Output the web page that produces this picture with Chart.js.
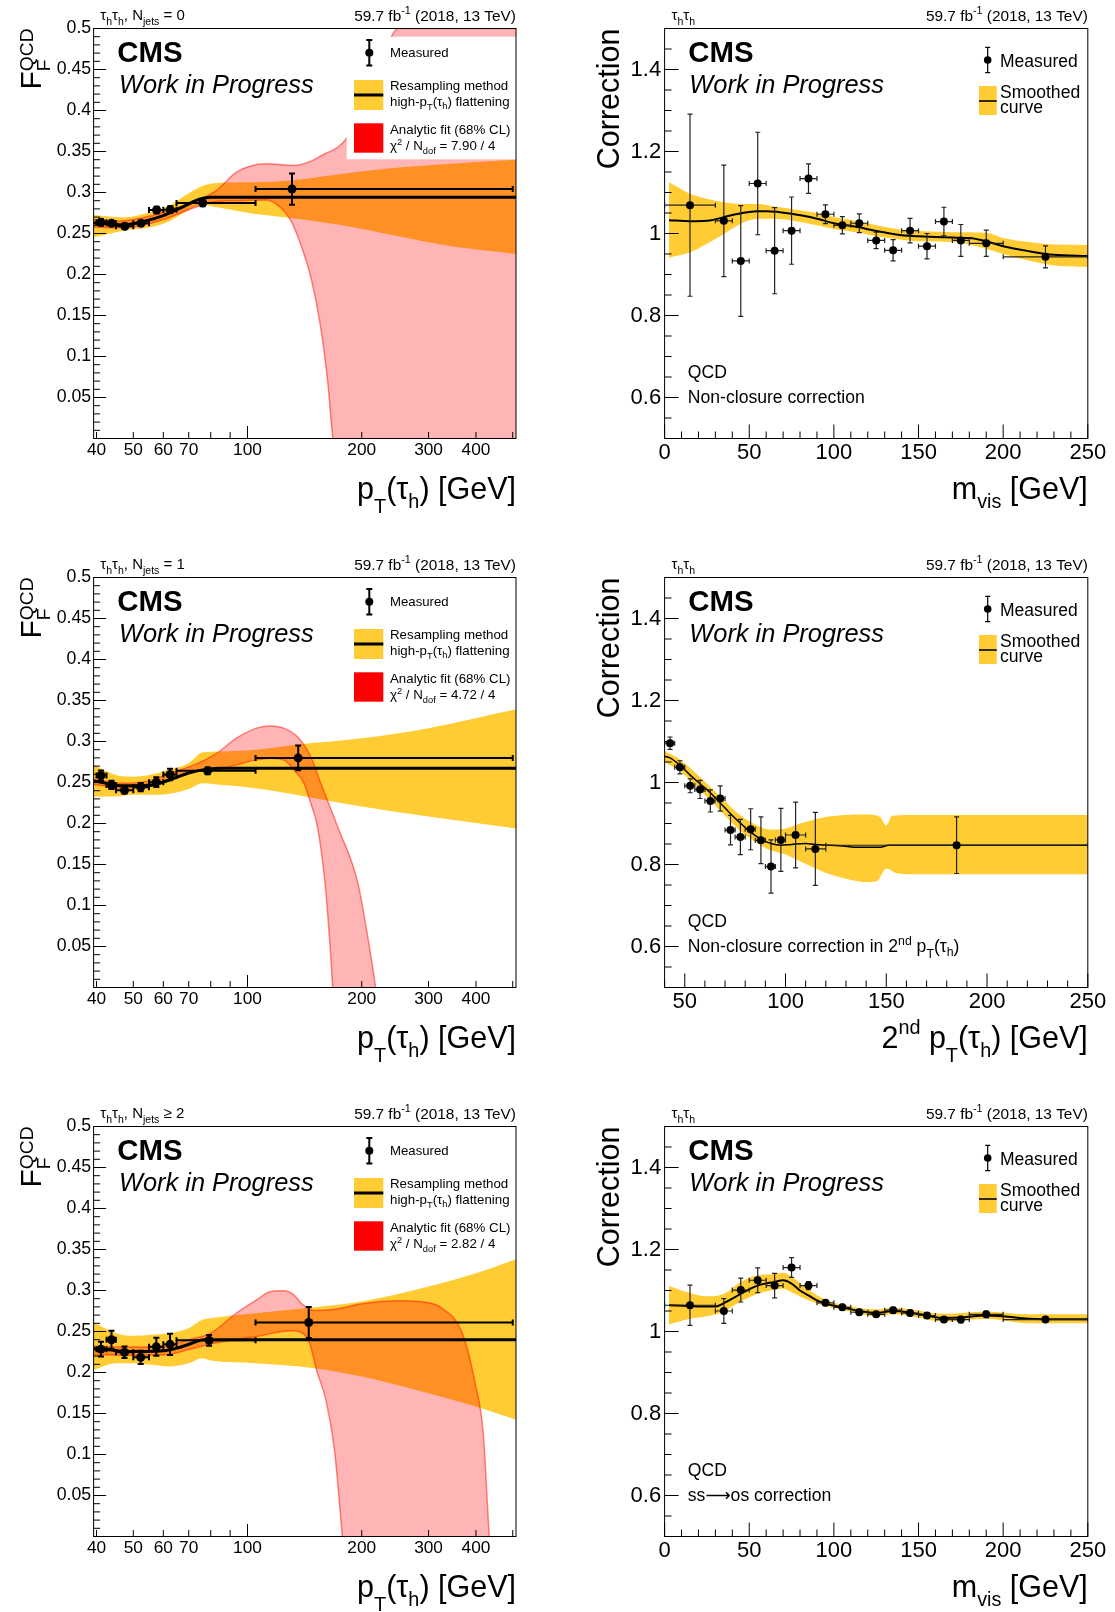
<!DOCTYPE html>
<html>
<head>
<meta charset="utf-8">
<title>QCD fake factors and corrections</title>
<script src="https://cdn.jsdelivr.net/npm/chart.js@4.4.1/dist/chart.umd.min.js"></script>
<style>
  html, body { margin: 0; padding: 0; background: #fff; }
  body { width: 1115px; height: 1612px; position: relative; overflow: hidden; }
  canvas { position: absolute; }
</style>
</head>
<body>
<canvas id="ff0" width="557" height="520" style="left:0;top:0"></canvas>
<canvas id="corrMvis" width="558" height="520" style="left:557px;top:0"></canvas>
<canvas id="ff1" width="557" height="520" style="left:0;top:549px"></canvas>
<canvas id="corrPt2" width="558" height="520" style="left:557px;top:549px"></canvas>
<canvas id="ff2" width="557" height="520" style="left:0;top:1098px"></canvas>
<canvas id="corrSsos" width="558" height="520" style="left:557px;top:1098px"></canvas>
<script>
const FONT = '"Liberation Sans", Arial, Helvetica, "DejaVu Sans", sans-serif'
const YELLOW = '#ffcc33'
const PINK = 'rgba(255, 0, 0, 0.29)'
const PINK_EDGE = 'rgba(255, 20, 0, 0.5)'
const AREA_TOP = 28.5
const AREA_BOTTOM = 438.5
const X_AXIS_H = 40

// tick labels
const ptTicks = [40, 50, 60, 70, 100, 200, 300, 400]
const ffTicks = [0.05, 0.1, 0.15, 0.2, 0.25, 0.3, 0.35, 0.4, 0.45, 0.5]
const corrTicks = [0.6, 0.8, 1, 1.2, 1.4]
const mvisTicks = [0, 50, 100, 150, 200, 250]
const pt2Ticks = [50, 100, 150, 200, 250]

// fake factor pT bins (GeV)
const ffBinLo = [40, 42.5, 45, 50, 55, 60, 65, 105]
const ffBinHi = [42.5, 45, 50, 55, 60, 65, 105, 500]

// F_F^QCD, Njets = 0
const nj0X = [41.1, 43.8, 47.5, 52.4, 57.6, 62.6, 76.2, 131]
const nj0Y = [0.2636, 0.2624, 0.2588, 0.2624, 0.2787, 0.2791, 0.2873, 0.3042]
const nj0Err = [0.004, 0.003, 0.003, 0.003, 0.004, 0.004, 0.004, 0.019]
const nj0CurveX = [39.3, 43, 47, 53, 60, 68, 75, 80, 510]
const nj0CurveY = [0.2632, 0.262, 0.2604, 0.2645, 0.2718, 0.2832, 0.2922, 0.2942, 0.2942]
const nj0BandX = [39.3, 47, 55.4, 62.6, 70.7, 76.7, 83.3, 105, 130, 173, 212, 260, 320, 393, 510]
const nj0BandHi = [0.2726, 0.2697, 0.2759, 0.2849, 0.3003, 0.3085, 0.3117, 0.3125, 0.3146, 0.322, 0.327, 0.331, 0.334, 0.337, 0.34]
const nj0BandLo = [0.2453, 0.2535, 0.2575, 0.2657, 0.28, 0.2849, 0.282, 0.2738, 0.269, 0.261, 0.2535, 0.245, 0.237, 0.231, 0.225]
const nj0FitHiX = [39.3, 45, 50, 55, 60, 65, 70, 76, 82.6, 93.5, 101.4, 112.4, 122, 132.4, 146.7, 159.4, 172.8, 183.9, 212, 250, 510]
const nj0FitHi = [0.267, 0.265, 0.267, 0.271, 0.276, 0.281, 0.287, 0.293, 0.302, 0.3248, 0.332, 0.335, 0.334, 0.333, 0.338, 0.347, 0.355, 0.368, 0.42, 0.5, 0.5]
const nj0FitLoX = [39.3, 45, 50, 55, 60, 65, 70, 76, 82.6, 93.5, 112.4, 122, 130, 138, 147, 156, 163, 168, 510]
const nj0FitLo = [0.258, 0.257, 0.258, 0.262, 0.267, 0.273, 0.279, 0.285, 0.289, 0.29, 0.291, 0.282, 0.266, 0.237, 0.196, 0.135, 0.066, 0, -0.5]

// F_F^QCD, Njets = 1
const nj1X = [41.1, 43.8, 47.4, 52.3, 57.5, 62.5, 78.5, 136]
const nj1Y = [0.2585, 0.247, 0.2406, 0.2443, 0.2504, 0.2597, 0.2642, 0.28]
const nj1Err = [0.006, 0.005, 0.004, 0.005, 0.006, 0.007, 0.004, 0.015]
const nj1CurveX = [39.3, 40, 47, 55, 62.5, 70.7, 78.4, 85, 510]
const nj1CurveY = [0.2515, 0.2512, 0.246, 0.2465, 0.2533, 0.2622, 0.2663, 0.2675, 0.2675]
const nj1BandX = [39.3, 45, 50, 55, 62, 70, 76, 85, 105, 134, 200, 300, 510]
const nj1BandHi = [0.2715, 0.259, 0.257, 0.259, 0.2654, 0.2736, 0.2866, 0.2878, 0.2898, 0.296, 0.304, 0.3163, 0.3394]
const nj1BandLo = [0.233, 0.233, 0.235, 0.235, 0.236, 0.242, 0.2492, 0.2472, 0.243, 0.235, 0.2207, 0.2085, 0.194]
const nj1FitHiX = [39.3, 47, 55, 63, 71, 82.6, 93.5, 105.7, 114.7, 124.5, 135.2, 146.7, 156, 172.8, 195.4, 210.1, 217.5, 230, 510]
const nj1FitHi = [0.254, 0.249, 0.252, 0.262, 0.27, 0.285, 0.304, 0.3163, 0.319, 0.3163, 0.306, 0.2817, 0.249, 0.196, 0.127, 0.046, 0, -0.1, -0.9]
const nj1FitLoX = [39.3, 47, 55, 63, 71, 82.6, 93.5, 105.7, 114.7, 124.5, 132.4, 140.9, 146.7, 152.9, 160.1, 165.3, 167.7, 175, 510]
const nj1FitLo = [0.248, 0.243, 0.245, 0.254, 0.263, 0.265, 0.2715, 0.2776, 0.2797, 0.2776, 0.2654, 0.249, 0.225, 0.196, 0.127, 0.046, 0, -0.1, -1]

// F_F^QCD, Njets >= 2
const nj2X = [41.1, 43.8, 47.4, 52.3, 57.5, 62.5, 79.2, 145]
const nj2Y = [0.2285, 0.24, 0.2246, 0.2185, 0.2313, 0.2343, 0.2392, 0.261]
const nj2Err = [0.009, 0.011, 0.007, 0.008, 0.011, 0.013, 0.0065, 0.019]
const nj2CurveX = [39.3, 43.2, 46.9, 53.1, 60, 65.2, 70.7, 76.7, 510]
const nj2CurveY = [0.229, 0.2277, 0.226, 0.2256, 0.2264, 0.2297, 0.235, 0.24, 0.24]
const nj2BandX = [39.3, 45, 50, 56, 62, 70, 76, 80, 105, 150, 200, 300, 400, 510]
const nj2BandHi = [0.261, 0.248, 0.2447, 0.246, 0.248, 0.2541, 0.2642, 0.2663, 0.2724, 0.2797, 0.2866, 0.3049, 0.3211, 0.3382]
const nj2BandLo = [0.2033, 0.2114, 0.2114, 0.2093, 0.2073, 0.2114, 0.2175, 0.2146, 0.2114, 0.2053, 0.1951, 0.1748, 0.1585, 0.1423]
const nj2FitHiX = [39.3, 47, 55, 62, 70, 80, 93.5, 105.7, 114.7, 124.5, 132.4, 140, 150, 170, 200, 250, 282, 325, 368, 398, 418, 433, 448, 510]
const nj2FitHi = [0.232, 0.231, 0.231, 0.233, 0.24, 0.248, 0.2724, 0.2886, 0.2984, 0.2996, 0.2947, 0.2825, 0.2756, 0.2772, 0.2837, 0.2874, 0.2866, 0.2785, 0.248, 0.187, 0.126, 0.004, -0.1, -0.5]
const nj2FitLoX = [39.3, 47, 55, 62, 70, 83.4, 105.7, 130.8, 144, 152.9, 160.9, 169.5, 177.6, 185, 510]
const nj2FitLo = [0.222, 0.221, 0.221, 0.222, 0.228, 0.2366, 0.244, 0.2508, 0.2417, 0.1992, 0.1667, 0.1057, 0.002, -0.1, -1]

// m_vis bins (GeV)
const mvisX = [15, 35, 45, 55, 65, 75, 85, 95, 105, 115, 125, 135, 145, 155, 165, 175, 190, 225]
const mvisLo = [0, 30, 40, 50, 60, 70, 80, 90, 100, 110, 120, 130, 140, 150, 160, 170, 180, 200]
const mvisHi = [30, 40, 50, 60, 70, 80, 90, 100, 110, 120, 130, 140, 150, 160, 170, 180, 200, 250]

// non-closure correction vs m_vis
const ncY = [1.069, 1.031, 0.933, 1.122, 0.958, 1.007, 1.134, 1.047, 1.02, 1.025, 0.983, 0.959, 1.007, 0.969, 1.029, 0.983, 0.976, 0.943]
const ncErr = [0.222, 0.136, 0.135, 0.125, 0.105, 0.082, 0.036, 0.023, 0.021, 0.023, 0.02, 0.026, 0.03, 0.031, 0.035, 0.039, 0.032, 0.027]
const ncCurveX = [2.6, 15, 25, 40, 55, 60, 75, 90, 100, 115, 125, 140, 150, 170, 180, 190, 200, 215, 230, 250]
const ncCurveY = [1.0325, 1.03, 1.031, 1.045, 1.054, 1.054, 1.048, 1.036, 1.025, 1.015, 1.006, 0.996, 0.993, 0.99, 0.989, 0.981, 0.969, 0.957, 0.948, 0.945]
const ncBandX = [2.6, 15, 25, 35, 45, 55, 65, 75, 90, 100, 115, 125, 140, 150, 170, 190, 200, 215, 230, 250]
const ncBandHi = [1.125, 1.097, 1.085, 1.076, 1.072, 1.072, 1.066, 1.06, 1.05, 1.04, 1.029, 1.02, 1.009, 1.006, 1.003, 1.002, 0.989, 0.979, 0.973, 0.972]
const ncBandLo = [0.941, 0.954, 0.975, 0.999, 1.024, 1.036, 1.036, 1.032, 1.02, 1.011, 1.002, 0.993, 0.985, 0.981, 0.979, 0.963, 0.95, 0.934, 0.922, 0.918]

// non-closure correction vs 2nd pT(tau_h)
const pt2X = [42.7, 47.6, 52.7, 57.6, 62.7, 67.6, 72.7, 77.6, 82.7, 87.8, 92.8, 97.7, 105, 114.8, 184.9]
const pt2Lo = [40, 45, 50, 55, 60, 65, 70, 75, 80, 85, 90, 95, 100, 110, 120]
const pt2Hi = [45, 50, 55, 60, 65, 70, 75, 80, 85, 90, 95, 100, 110, 120, 250]
const pt2Y = [1.096, 1.037, 0.992, 0.983, 0.955, 0.961, 0.884, 0.867, 0.886, 0.859, 0.795, 0.86, 0.872, 0.838, 0.847]
const pt2Err = [0.015, 0.016, 0.017, 0.022, 0.027, 0.031, 0.036, 0.043, 0.05, 0.057, 0.065, 0.077, 0.08, 0.089, 0.069]
const pt2CurveX = [40, 42.7, 47.6, 52.7, 57.6, 62.7, 67.6, 72.7, 77.6, 82.7, 87.7, 92.8, 97.7, 103, 109.8, 116.5, 126.7, 136.9, 147, 151.2, 167.3, 250]
const pt2CurveY = [1.064, 1.06, 1.042, 1.018, 0.997, 0.975, 0.95, 0.924, 0.901, 0.879, 0.862, 0.851, 0.847, 0.849, 0.851, 0.848, 0.846, 0.842, 0.842, 0.847, 0.847, 0.847]
const pt2BandHiX = [40, 47.6, 57.6, 67.6, 77.6, 87.7, 92.8, 99.6, 108, 119.9, 130.1, 140.2, 147, 150, 152.9, 167.3, 250]
const pt2BandHi = [1.077, 1.056, 1.013, 0.966, 0.92, 0.891, 0.885, 0.887, 0.901, 0.916, 0.921, 0.922, 0.916, 0.895, 0.919, 0.921, 0.921]
const pt2BandLoX = [40, 47.6, 57.6, 67.6, 77.6, 87.7, 92.8, 99.6, 108, 119.9, 130.1, 140.2, 145.3, 150, 155.5, 167.3, 250]
const pt2BandLo = [1.05, 1.028, 0.982, 0.932, 0.882, 0.847, 0.834, 0.825, 0.806, 0.78, 0.765, 0.757, 0.759, 0.79, 0.778, 0.776, 0.776]

// ss -> os correction vs m_vis
const osY = [1.064, 1.05, 1.101, 1.125, 1.112, 1.156, 1.112, 1.07, 1.059, 1.047, 1.042, 1.052, 1.045, 1.039, 1.029, 1.029, 1.042, 1.029]
const osErr = [0.049, 0.03, 0.029, 0.03, 0.03, 0.024, 0.01, 0.007, 0.007, 0.007, 0.006, 0.007, 0.007, 0.007, 0.007, 0.008, 0.008, 0.007]
const osCurveX = [2.6, 15, 25, 30, 35, 40, 45, 55, 65, 70, 75, 80, 85, 90, 95, 105, 115, 125, 135, 145, 155, 165, 175, 190, 200, 215, 225, 250]
const osCurveY = [1.064, 1.062, 1.061, 1.061, 1.069, 1.08, 1.092, 1.112, 1.121, 1.125, 1.117, 1.1, 1.088, 1.076, 1.068, 1.059, 1.05, 1.045, 1.05, 1.046, 1.039, 1.033, 1.034, 1.039, 1.037, 1.031, 1.03, 1.03]
const osBandX = [2.6, 15, 25, 35, 45, 55, 65, 70, 75, 85, 95, 105, 125, 135, 145, 165, 190, 215, 250]
const osBandHi = [1.111, 1.094, 1.086, 1.092, 1.121, 1.137, 1.14, 1.143, 1.134, 1.102, 1.078, 1.065, 1.054, 1.058, 1.054, 1.043, 1.049, 1.042, 1.042]
const osBandLo = [1.017, 1.031, 1.037, 1.049, 1.073, 1.092, 1.102, 1.104, 1.096, 1.076, 1.062, 1.053, 1.037, 1.042, 1.038, 1.024, 1.031, 1.02, 1.02]

const pts = (xs, ys) => xs.map((x, i) => ({ x, y: ys[i] }))

// text with sub/superscripts: parts = [text, kind, offset]
function rich(ctx, parts, x, y, size, align, style, scale) {
  const sc = scale || 0.7
  const font = s => `${style || ''} ${s}px ${FONT}`
  const items = parts.map(([t, k, off]) => {
    if (k === 'stack') {
      ctx.font = font(size * sc)
      return { t, s: size * sc, stack: true, off, w: Math.max(ctx.measureText(t[0]).width, ctx.measureText(t[1]).width) }
    }
    const s = k ? size * sc : size
    ctx.font = font(s)
    const dy = k === 'sub' ? (off ?? 0.3) * size : k === 'sup' ? -(off ?? 0.4) * size : 0
    return { t, s, dy, w: ctx.measureText(t).width }
  })
  const total = items.reduce((a, it) => a + it.w, 0)
  let cx = align === 'right' ? x - total : align === 'center' ? x - total / 2 : x
  ctx.textAlign = 'left'
  ctx.textBaseline = 'alphabetic'
  items.forEach(it => {
    ctx.font = font(it.s)
    if (it.stack) {
      ctx.fillText(it.t[0], cx, y - it.off[0] * size)
      ctx.fillText(it.t[1], cx, y + it.off[1] * size)
    } else {
      ctx.fillText(it.t, cx, y + it.dy)
    }
    cx += it.w
  })
}

function errMarker(ctx, x, y, r, top, bottom, cap, lw) {
  ctx.fillStyle = '#000'
  ctx.strokeStyle = '#000'
  ctx.lineWidth = lw
  ctx.beginPath()
  ctx.moveTo(x, top); ctx.lineTo(x, bottom)
  ctx.moveTo(x - cap, top); ctx.lineTo(x + cap, top)
  ctx.moveTo(x - cap, bottom); ctx.lineTo(x + cap, bottom)
  ctx.stroke()
  ctx.beginPath(); ctx.arc(x, y, r, 0, 2 * Math.PI); ctx.fill()
}

function drawFFDecor(ctx, a, p) {
  // legend (white box sits over the analytic band)
  ctx.fillStyle = '#fff'
  ctx.fillRect(346.7, 36.7, a.right - 346.7, 122.6)
  errMarker(ctx, 369.3, 52.7, 4, 40, 65.5, 3, 2)
  ctx.fillStyle = '#000'
  rich(ctx, [['Measured']], 390, 57, 13.2)
  ctx.fillStyle = YELLOW
  ctx.fillRect(354, 80, 29.3, 30)
  ctx.fillStyle = '#000'
  ctx.fillRect(354, 93.5, 29.3, 3)
  rich(ctx, [['Resampling method']], 390, 89.5, 13.3)
  rich(ctx, [['high-p'], ['T', 'sub', 0.35], ['(τ'], ['h', 'sub', 0.25], [') flattening']], 390, 105.5, 13.3)
  ctx.fillStyle = '#ff0000'
  ctx.fillRect(354, 123.3, 29.3, 29.4)
  ctx.fillStyle = '#000'
  rich(ctx, [['Analytic fit (68% CL)']], 390, 133.5, 13.3)
  rich(ctx, [['χ'], ['2', 'sup', 0.35], [' / N'], ['dof', 'sub', 0.3], [' = ' + p.chi2]], 390, 150, 13.3)

  ctx.fillStyle = '#000'
  rich(ctx, [['CMS']], 117.3, 61.7, 29.4, 'left', 'bold')
  rich(ctx, [['Work in Progress']], 119, 93.3, 25.4, 'left', 'italic')
  rich(ctx, [['τ'], ['h', 'sub', 0.3], ['τ'], ['h', 'sub', 0.3], [', N'], ['jets', 'sub', 0.3], [p.njets]], 100.3, 20, 15)
  rich(ctx, [['59.7 fb'], ['-1', 'sup', 0.4], [' (2018, 13 TeV)']], a.right, 20.5, 15.4, 'right')
  rich(ctx, [['p'], ['T', 'sub', 0.45], ['(τ'], ['h', 'sub', 0.3], [') [GeV]']], a.right, 499, 30.5, 'right', '', 0.65)
  // rotated y title
  ctx.save()
  ctx.translate(40.6, a.top)
  ctx.rotate(-Math.PI / 2)
  rich(ctx, [['F'], [['QCD', 'F'], 'stack', [0.24, 0.3]]], 0, 0, 30, 'right', '', 0.64)
  ctx.restore()
}

function drawCorrDecor(ctx, a, p) {
  errMarker(ctx, 430.7, 60, 3.8, 47.3, 72.7, 2.5, 1.2)
  ctx.fillStyle = '#000'
  rich(ctx, [['Measured']], 443, 66.5, 17.5)
  ctx.fillStyle = YELLOW
  ctx.fillRect(422, 86, 17.7, 29)
  ctx.fillStyle = '#000'
  ctx.fillRect(422, 100.2, 17.7, 1.6)
  rich(ctx, [['Smoothed']], 443, 98, 17.6)
  rich(ctx, [['curve']], 443, 113, 17.6)

  rich(ctx, [['CMS']], 131.3, 61.5, 29.4, 'left', 'bold')
  rich(ctx, [['Work in Progress']], 132.3, 93.3, 25.4, 'left', 'italic')
  rich(ctx, [['τ'], ['h', 'sub', 0.3], ['τ'], ['h', 'sub', 0.3]], 114.5, 20, 15)
  rich(ctx, [['59.7 fb'], ['-1', 'sup', 0.4], [' (2018, 13 TeV)']], a.right, 20.5, 15.4, 'right')
  rich(ctx, [['QCD']], 130.8, 377.7, 17.6)
  rich(ctx, p.note, 130.8, 402.7, 17.6)
  rich(ctx, p.xTitle, a.right, 499, 30.5, 'right', '', 0.65)
  ctx.save()
  ctx.translate(62.2, a.top)
  ctx.rotate(-Math.PI / 2)
  rich(ctx, [['Correction']], 0, 0, 30.5, 'right')
  ctx.restore()
}

function rootPlugin(p) {
  return {
    id: 'rootStyle',
    beforeDatasetDraw(chart, args) {
      const ds = chart.data.datasets[args.index]
      if (!ds.errY) return
      const { ctx, chartArea: a, scales: { x, y } } = chart
      ctx.save()
      ctx.beginPath()
      ctx.rect(a.left, a.top, a.width, a.height)
      ctx.clip()
      ctx.strokeStyle = p.errColor
      ctx.lineWidth = p.errW
      ctx.beginPath()
      ds.data.forEach((pt, i) => {
        const px = x.getPixelForValue(pt.x)
        const py = y.getPixelForValue(pt.y)
        const xl = x.getPixelForValue(ds.errX[i][0])
        const xh = x.getPixelForValue(ds.errX[i][1])
        const yl = y.getPixelForValue(pt.y - ds.errY[i])
        const yh = y.getPixelForValue(pt.y + ds.errY[i])
        ctx.moveTo(xl, py); ctx.lineTo(xh, py)
        ctx.moveTo(xl, py - p.cap); ctx.lineTo(xl, py + p.cap)
        ctx.moveTo(xh, py - p.cap); ctx.lineTo(xh, py + p.cap)
        ctx.moveTo(px, yl); ctx.lineTo(px, yh)
        ctx.moveTo(px - p.cap, yl); ctx.lineTo(px + p.cap, yl)
        ctx.moveTo(px - p.cap, yh); ctx.lineTo(px + p.cap, yh)
      })
      ctx.stroke()
      ctx.restore()
    },
    afterDraw(chart) {
      const { ctx, chartArea: a, scales: { x, y } } = chart
      ctx.save()
      if (p.kind === 'ff') drawFFDecor(ctx, a, p)
      else drawCorrDecor(ctx, a, p)
      // inward ticks + frame
      ctx.strokeStyle = '#000'
      ctx.lineWidth = 1
      ctx.beginPath()
      const tickX = (v, len) => { const px = x.getPixelForValue(v); ctx.moveTo(px, a.bottom); ctx.lineTo(px, a.bottom - len) }
      const tickY = (v, len) => { const py = y.getPixelForValue(v); ctx.moveTo(a.left, py); ctx.lineTo(a.left + len, py) }
      p.xMajor.forEach(v => tickX(v, p.majorLen))
      p.xMinor.forEach(v => tickX(v, p.minorLen))
      p.yMajor.forEach(v => tickY(v, p.majorLen))
      p.yMinor.forEach(v => tickY(v, p.minorLen))
      ctx.stroke()
      ctx.strokeRect(a.left, a.top, a.width, a.height)
      ctx.restore()
    }
  }
}

function buildDatasets(p) {
  const sets = [
    {
      data: pts(p.x, p.y), showLine: false, pointRadius: p.markR, pointBackgroundColor: '#000',
      pointBorderWidth: 0, errX: p.xLo.map((lo, i) => [lo, p.xHi[i]]), errY: p.err, order: 0
    },
    { data: pts(p.curveX, p.curveY), borderColor: '#000', borderWidth: p.curveW, pointRadius: 0, fill: false, order: 1 }
  ]
  if (p.fitHi) {
    sets.push({ data: pts(p.fitHiX, p.fitHi), borderColor: PINK_EDGE, borderWidth: 1.5, backgroundColor: PINK, pointRadius: 0, fill: '+1', order: 2 })
    sets.push({ data: pts(p.fitLoX, p.fitLo), borderColor: PINK_EDGE, borderWidth: 1.5, pointRadius: 0, fill: false, order: 3 })
  }
  sets.push({ data: pts(p.bandHiX, p.bandHi), borderWidth: 0, borderColor: 'rgba(0,0,0,0)', backgroundColor: YELLOW, pointRadius: 0, fill: '+1', order: 4 })
  sets.push({ data: pts(p.bandLoX, p.bandLo), borderWidth: 0, borderColor: 'rgba(0,0,0,0)', pointRadius: 0, fill: false, order: 5 })
  sets.forEach(s => { s.cubicInterpolationMode = 'monotone'; s.capBezierPoints = false })
  return sets
}

function makeChart(p) {
  const canvas = document.getElementById(p.id)
  const tickFont = size => ({ family: FONT, size })
  return new Chart(canvas, {
    type: 'line',
    data: { datasets: buildDatasets(p) },
    options: {
      responsive: false,
      animation: false,
      events: [],
      layout: { padding: { left: 0, top: AREA_TOP, right: canvas.width - p.areaRight, bottom: canvas.height - AREA_BOTTOM - X_AXIS_H } },
      plugins: { legend: { display: false }, tooltip: { enabled: false } },
      scales: {
        x: {
          type: p.xType, min: p.xMin, max: p.xMax,
          grid: { display: false, drawTicks: false }, border: { display: false },
          ticks: { autoSkip: false, maxRotation: 0, padding: p.xPad, color: '#000', font: tickFont(p.xTickSize), callback: v => String(v) },
          afterBuildTicks: s => { s.ticks = p.xTicks.map(v => ({ value: v })) },
          afterFit: s => { s.height = X_AXIS_H }
        },
        y: {
          type: 'linear', min: p.yMin, max: p.yMax,
          grid: { display: false, drawTicks: false }, border: { display: false },
          ticks: { autoSkip: false, padding: p.yPad, color: '#000', font: tickFont(p.yTickSize), callback: v => String(+v.toFixed(2)) },
          afterBuildTicks: s => { s.ticks = p.yTicks.map(v => ({ value: v })) },
          afterFit: s => { s.width = p.areaLeft }
        }
      }
    },
    plugins: [rootPlugin(p)]
  })
}

// axis decoration (tick marks)
const ffYMajor = [], ffYMinor = []
for (let i = 0; i <= 50; i++) (i % 5 ? ffYMinor : ffYMajor).push(i / 100)
const corrYMajor = [], corrYMinor = []
for (let i = 10; i <= 30; i++) (i % 4 ? corrYMinor : corrYMajor).push(i * 0.05)
const mvisMajor = [], mvisMinor = []
for (let i = 0; i <= 25; i++) (i % 5 ? mvisMinor : mvisMajor).push(i * 10)
const pt2Major = [], pt2Minor = []
for (let i = 4; i <= 25; i++) (i % 5 ? pt2Minor : pt2Major).push(i * 10)

const ffBase = {
  kind: 'ff', xType: 'logarithmic', xMin: 39.3, xMax: 510, xTicks: ptTicks, yMin: 0, yMax: 0.5, yTicks: ffTicks,
  areaLeft: 93.6, areaRight: 516, xTickSize: 17.3, yTickSize: 17.7, xPad: 1.5, yPad: 2.4,
  markR: 4.5, curveW: 3, errW: 2, errColor: '#000', cap: 3, majorLen: 12.5, minorLen: 6.5,
  xMajor: [100], xMinor: [40, 50, 60, 70, 80, 90, 200, 300, 400, 500], yMajor: ffYMajor, yMinor: ffYMinor,
  xLo: ffBinLo, xHi: ffBinHi
}
const corrBase = {
  kind: 'corr', xType: 'linear', xMin: 0, xMax: 250, xTicks: mvisTicks, yMin: 0.5, yMax: 1.5, yTicks: corrTicks,
  areaLeft: 107.6, areaRight: 530.8, xTickSize: 22, yTickSize: 22, xPad: 1, yPad: 3.4,
  markR: 4, curveW: 2, errW: 1.2, errColor: '#222', cap: 2.5, majorLen: 14, minorLen: 7,
  xMajor: mvisMajor, xMinor: mvisMinor, yMajor: corrYMajor, yMinor: corrYMinor,
  xLo: mvisLo, xHi: mvisHi, x: mvisX,
  xTitle: [['m'], ['vis', 'sub', 0.3], [' [GeV]']]
}

makeChart({ ...ffBase, id: 'ff0', njets: ' = 0', chi2: '7.90 / 4', x: nj0X, y: nj0Y, err: nj0Err,
  curveX: nj0CurveX, curveY: nj0CurveY, bandHiX: nj0BandX, bandHi: nj0BandHi, bandLoX: nj0BandX, bandLo: nj0BandLo,
  fitHiX: nj0FitHiX, fitHi: nj0FitHi, fitLoX: nj0FitLoX, fitLo: nj0FitLo })
makeChart({ ...ffBase, id: 'ff1', njets: ' = 1', chi2: '4.72 / 4', x: nj1X, y: nj1Y, err: nj1Err,
  curveX: nj1CurveX, curveY: nj1CurveY, bandHiX: nj1BandX, bandHi: nj1BandHi, bandLoX: nj1BandX, bandLo: nj1BandLo,
  fitHiX: nj1FitHiX, fitHi: nj1FitHi, fitLoX: nj1FitLoX, fitLo: nj1FitLo })
makeChart({ ...ffBase, id: 'ff2', njets: ' ≥ 2', chi2: '2.82 / 4', x: nj2X, y: nj2Y, err: nj2Err,
  curveX: nj2CurveX, curveY: nj2CurveY, bandHiX: nj2BandX, bandHi: nj2BandHi, bandLoX: nj2BandX, bandLo: nj2BandLo,
  fitHiX: nj2FitHiX, fitHi: nj2FitHi, fitLoX: nj2FitLoX, fitLo: nj2FitLo })

makeChart({ ...corrBase, id: 'corrMvis', y: ncY, err: ncErr, curveX: ncCurveX, curveY: ncCurveY,
  bandHiX: ncBandX, bandHi: ncBandHi, bandLoX: ncBandX, bandLo: ncBandLo,
  note: [['Non-closure correction']] })
makeChart({ ...corrBase, id: 'corrPt2', xMin: 40, xTicks: pt2Ticks, xMajor: pt2Major, xMinor: pt2Minor,
  x: pt2X, xLo: pt2Lo, xHi: pt2Hi, y: pt2Y, err: pt2Err, curveW: 1.5, curveX: pt2CurveX, curveY: pt2CurveY,
  bandHiX: pt2BandHiX, bandHi: pt2BandHi, bandLoX: pt2BandLoX, bandLo: pt2BandLo,
  note: [['Non-closure correction in 2'], ['nd', 'sup', 0.4], [' p'], ['T', 'sub', 0.35], ['(τ'], ['h', 'sub', 0.25], [')']],
  xTitle: [['2'], ['nd', 'sup', 0.45], [' p'], ['T', 'sub', 0.45], ['(τ'], ['h', 'sub', 0.3], [') [GeV]']] })
makeChart({ ...corrBase, id: 'corrSsos', y: osY, err: osErr, curveX: osCurveX, curveY: osCurveY,
  bandHiX: osBandX, bandHi: osBandHi, bandLoX: osBandX, bandLo: osBandLo,
  note: [['ss⟶os correction']] })
</script>
</body>
</html>
